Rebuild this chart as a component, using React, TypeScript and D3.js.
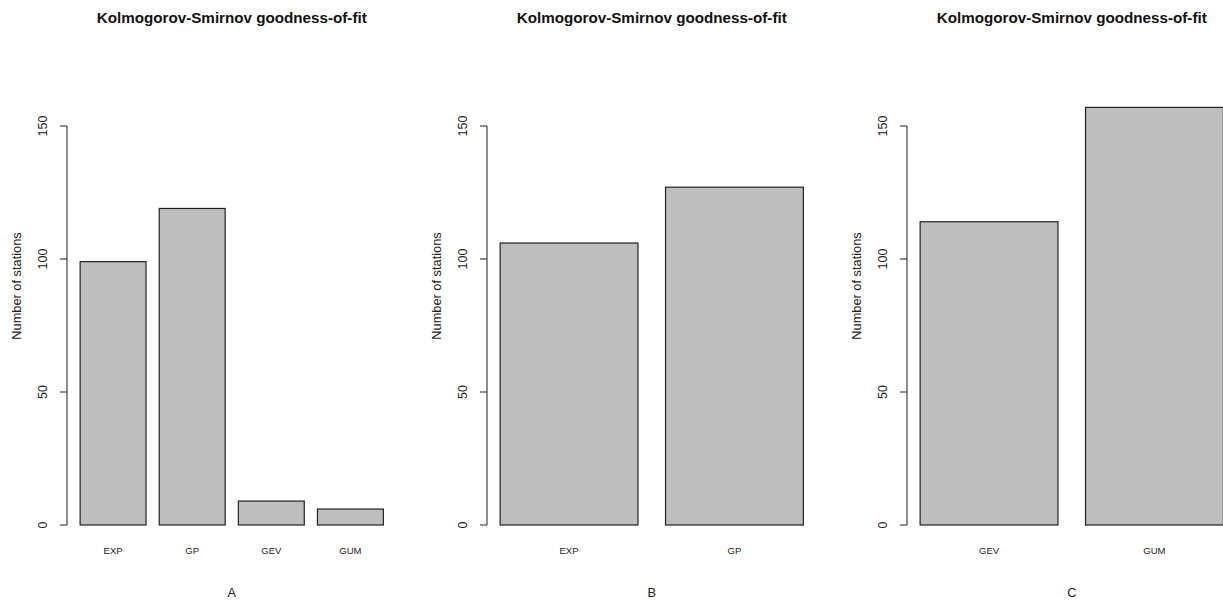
import React from 'react';
import * as d3 from 'd3';

const titleText = 'Kolmogorov-Smirnov goodness-of-fit';
const yLabel = 'Number of stations';
const yTicks = [0, 50, 100, 150];

const catsA = ['EXP', 'GP', 'GEV', 'GUM'];
const valsA = [99, 119, 9, 6];
const catsB = ['EXP', 'GP'];
const valsB = [106, 127];
const catsC = ['GEV', 'GUM'];
const valsC = [114, 157];
const panelLetters = ['A', 'B', 'C'];

const W = 1223;
const H = 601;
const panelW = 420;
const plotL = 68;
const plotR = 395.5;
const y = d3.scaleLinear().domain([0, 150]).range([525, 126]);

const font = '"Liberation Sans", Arial, sans-serif';

const Panel = ({ cats, vals, letter, offset }: { cats: string[]; vals: number[]; letter: string; offset: number }) => {
  // R barplot: width 1, space 0.2, usr extended by 4%
  const n = cats.length;
  const lo = 0.2;
  const hi = n * 1.2;
  const ext = (hi - lo) * 0.04;
  const x = d3.scaleLinear().domain([lo - ext, hi + ext]).range([plotL, plotR]);
  const cx = (plotL + plotR) / 2;

  return (
    <g transform={`translate(${offset},0)`}>
      <text x={cx} y={23} textAnchor="middle" fontSize={15.2} fontWeight="bold" fill="#111">
        {titleText}
      </text>
      {vals.map((v, i) => {
        const x0 = x(0.2 + i * 1.2);
        const x1 = x(1.2 + i * 1.2);
        return (
          <g key={cats[i]}>
            <rect
              x={x0}
              y={y(v)}
              width={x1 - x0}
              height={y(0) - y(v)}
              fill="#bebebe"
              stroke="#222"
              strokeWidth={1.2}
            />
            <text x={(x0 + x1) / 2} y={553.5} textAnchor="middle" fontSize={9.5} fill="#222">
              {cats[i]}
            </text>
          </g>
        );
      })}
      <line x1={plotL - 1} x2={plotL - 1} y1={y(0)} y2={y(150)} stroke="#444" strokeWidth={1.2} />
      {yTicks.map((t) => (
        <g key={t}>
          <line x1={plotL - 8} x2={plotL - 1} y1={y(t)} y2={y(t)} stroke="#444" strokeWidth={1.2} />
          <text
            transform={`translate(${plotL - 25},${y(t)}) rotate(-90)`}
            textAnchor="middle"
            dy="0.35em"
            fontSize={12.5}
            fill="#222"
          >
            {t}
          </text>
        </g>
      ))}
      <text
        transform={`translate(17,286) rotate(-90)`}
        textAnchor="middle"
        dy="0.35em"
        fontSize={12.8}
        fill="#222"
      >
        {yLabel}
      </text>
      <text x={cx} y={597} textAnchor="middle" fontSize={12.8} fill="#222">
        {letter}
      </text>
    </g>
  );
};

export default function App() {
  const panels = [
    { cats: catsA, vals: valsA },
    { cats: catsB, vals: valsB },
    { cats: catsC, vals: valsC },
  ];
  return (
    <svg
      width={W}
      height={H}
      style={{ position: 'absolute', left: 0, top: 0, background: '#fff' }}
      fontFamily={font}
    >
      <rect width={W} height={H} fill="#fff" />
      {panels.map((p, i) => (
        <Panel key={i} cats={p.cats} vals={p.vals} letter={panelLetters[i]} offset={i * panelW} />
      ))}
    </svg>
  );
}
